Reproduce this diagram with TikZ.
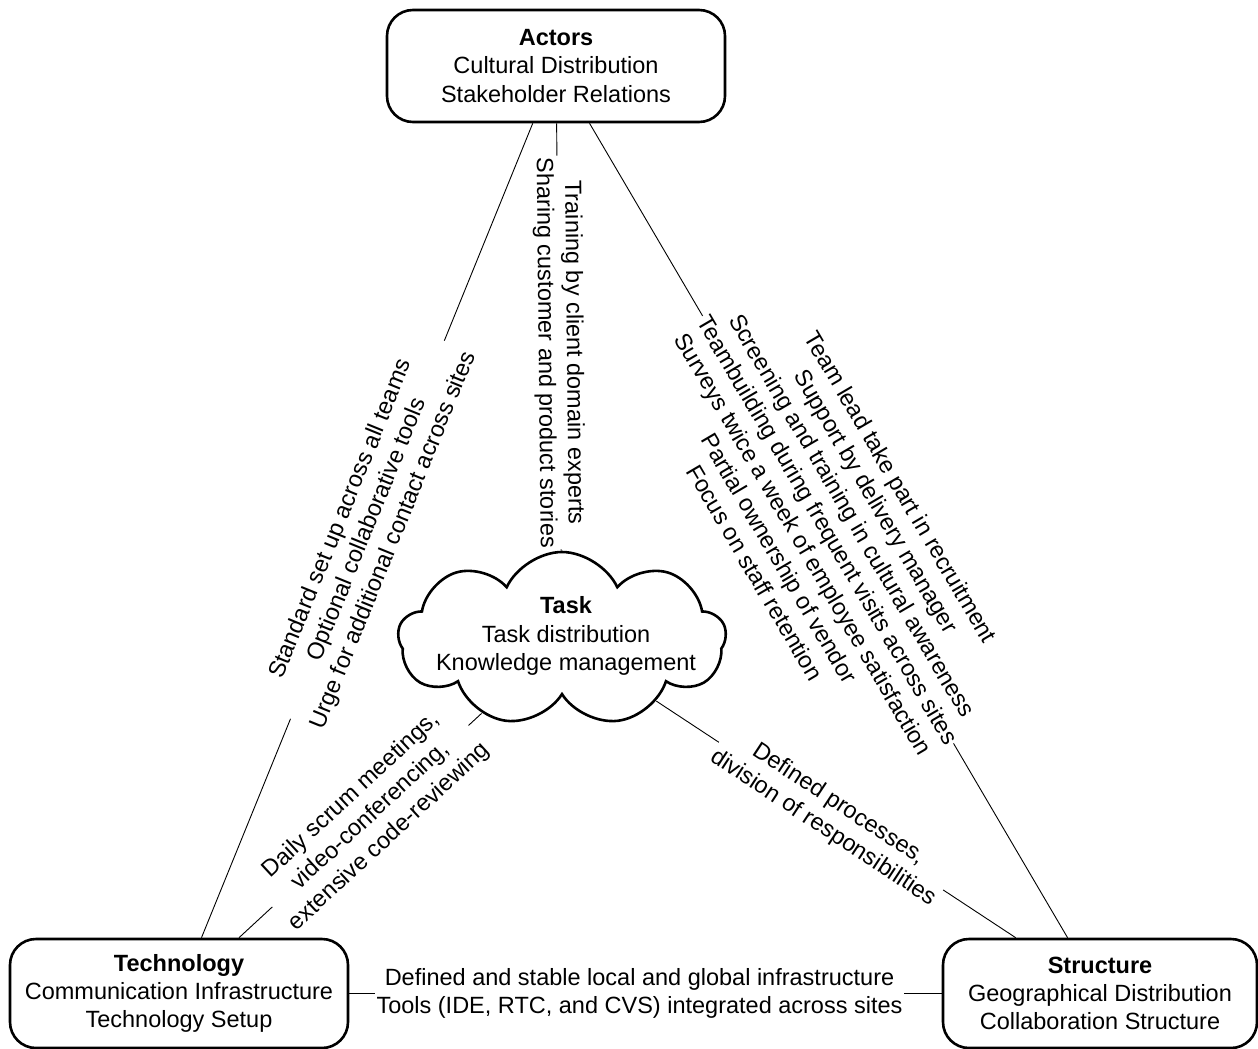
\documentclass[tikz,border=0pt]{standalone}
\usepackage{fontspec}
\setmainfont{Liberation Sans}
\usetikzlibrary{shapes.symbols}
\begin{document}
\begin{tikzpicture}[x=1pt,y=-1pt,
  every node/.style={font=\fontsize{23.5}{28.2}\selectfont, align=center},
  dimbox/.style={draw, line width=2.6pt, rounded corners=26pt, inner sep=0pt},
  link/.style={line width=0.9pt},
  note/.style={fill=white, inner sep=1.5pt, sloped},
]
\useasboundingbox (0,0) rectangle (1258,1049);

% the four dimensions
\node[dimbox, minimum width=338pt, minimum height=112pt] (actors) at (556,66)
  {\textbf{Actors}\\Cultural Distribution\\Stakeholder Relations};
\node[dimbox, minimum width=338pt, minimum height=109pt] (tech) at (179,993.5)
  {\textbf{Technology}\\Communication Infrastructure\\Technology Setup};
\node[dimbox, minimum width=314pt, minimum height=109pt] (struct) at (1100,993.5)
  {\textbf{Structure}\\Geographical Distribution\\Collaboration Structure};
\node[cloud, draw, line width=2.6pt, cloud puffs=9, cloud puff arc=130, aspect=1.9,
  minimum width=328pt, minimum height=174pt, inner sep=0pt, shape border rotate=20] (task) at (562,639) {};
\node (tasktext) at (566,636) {\textbf{Task}\\Task distribution\\Knowledge management};

% connectors
\draw[link] (actors) -- (tech);
\draw[link] (actors) -- (task);
\draw[link] (actors) -- (struct);
\draw[link] (task) -- (tech);
\draw[link] (task) -- (struct);
\draw[link] (tech) -- (struct);

% practices written along the connectors
\path (actors.center) -- node[note]
  {Standard set up across all teams\\Optional collaborative tools\\Urge for additional contact across sites} (tech.center);
\path (actors.center) -- node[note]
  {Training by client domain experts\\Sharing customer and product stories} (task.center);
\path (actors.center) -- node[note]
  {Team lead take part in recruitment\\Support by delivery manager\\Screening and training in cultural awareness\\Teambuilding during frequent visits across sites\\Surveys twice a week of employee satisfaction\\Partial ownership of vendor\\Focus on staff retention} (struct.center);
\path (task.center) -- node[note]
  {Daily scrum meetings,\\video-conferencing,\\extensive code-reviewing} (tech.center);
\path (task.center) -- node[note]
  {Defined processes,\\division of responsibilities} (struct.center);
\path (tech.center) -- node[note]
  {Defined and stable local and global infrastructure\\Tools (IDE, RTC, and CVS) integrated across sites} (struct.center);
\end{tikzpicture}
\end{document}
